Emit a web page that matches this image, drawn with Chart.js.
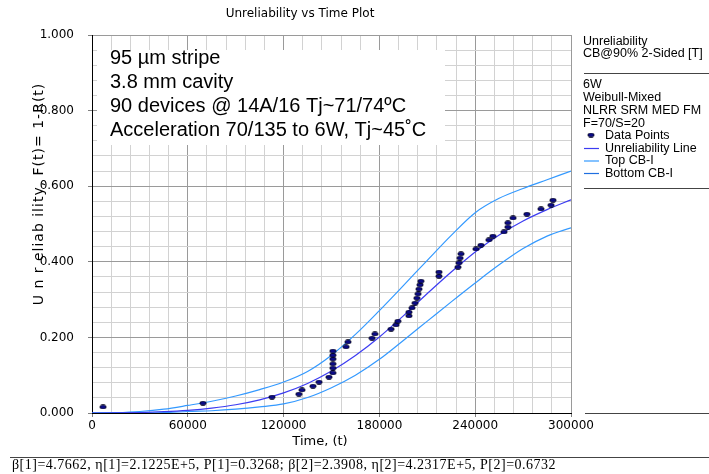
<!DOCTYPE html>
<html>
<head>
<meta charset="utf-8">
<script src="https://cdn.jsdelivr.net/npm/chart.js"></script>
<style>
  html, body { margin: 0; padding: 0; background: #fff; }
  canvas { display: block; }
</style>
</head>
<body>
<canvas id="plot" width="709" height="474"></canvas>
<script>
'use strict';

// DATA

let failTimes = [6900, 69500, 112700, 129600, 131500, 138400, 142200, 148400,
  150900, 150900, 150900, 150900, 150900, 150900, 159100, 160300, 175400, 177200,
  187300, 190400, 191600, 198500, 198500, 200400, 202300, 203500, 204200, 204800,
  205400, 206000, 217300, 217300, 229200, 229800, 230500, 231100, 240500, 243600,
  248600, 251100, 258000, 260500, 260500, 263700, 272400, 281200, 287500, 288700];
let failUnrel = [0.016, 0.026, 0.042, 0.050, 0.061, 0.071, 0.082, 0.095,
  0.106, 0.119, 0.130, 0.143, 0.153, 0.164, 0.175, 0.188, 0.198, 0.209,
  0.222, 0.233, 0.243, 0.257, 0.267, 0.278, 0.291, 0.304, 0.315, 0.328,
  0.339, 0.349, 0.362, 0.373, 0.386, 0.397, 0.410, 0.421, 0.434, 0.444,
  0.458, 0.468, 0.479, 0.492, 0.503, 0.516, 0.526, 0.540, 0.550, 0.563];

let curveTimes = [0, 15000, 30000, 45000, 60000, 75000, 90000, 105000, 120000, 135000,
  150000, 165000, 180000, 195000, 210000, 225000, 240000, 255000, 270000, 285000, 300000];
let unrelLine = [0, 0.0002, 0.0012, 0.0034, 0.0071, 0.013, 0.0218, 0.0348, 0.0532, 0.0782,
  0.111, 0.152, 0.201, 0.257, 0.316, 0.373, 0.426, 0.471, 0.508, 0.538, 0.564];
let topCB = [0, 0.001, 0.004, 0.010, 0.020, 0.031, 0.045, 0.062, 0.082, 0.110,
  0.153, 0.208, 0.271, 0.337, 0.404, 0.470, 0.530, 0.568, 0.594, 0.617, 0.640];
let bottomCB = [0, 0, 0.0003, 0.001, 0.004, 0.006, 0.010, 0.016, 0.024, 0.041,
  0.067, 0.100, 0.142, 0.192, 0.243, 0.294, 0.344, 0.392, 0.435, 0.468, 0.490];

let xTicks = [0, 60000, 120000, 180000, 240000, 300000];
let yTicks = [0, 0.2, 0.4, 0.6, 0.8, 1.0];

let noteLines = ['95 \u00b5m stripe', '3.8 mm cavity',
  '90 devices @ 14A/16 Tj~71/74\u00baC', 'Acceleration 70/135 to 6W, Tj~45\u02daC'];
let legendHead = ['Unreliability', 'CB@90% 2-Sided [T]'];
let legendInfo = ['6W', 'Weibull-Mixed', 'NLRR SRM MED FM', 'F=70/S=20'];
let footer = '\u03b2[1]=4.7662, \u03b7[1]=2.1225E+5, P[1]=0.3268; \u03b2[2]=2.3908, \u03b7[2]=4.2317E+5, P[2]=0.6732';

// COLOURS

let dotFill = '#0b0b8c';
let lineColor = '#3c3cf2';
let cbColor = '#3399ff';
let cbColor2 = '#1f6fe0';

// small ellipse marker for the data points
let dot = document.createElement('canvas');
dot.width = 8;
dot.height = 5;
let dctx = dot.getContext('2d');
dctx.fillStyle = dotFill;
dctx.strokeStyle = '#000';
dctx.lineWidth = 0.7;
dctx.beginPath();
dctx.ellipse(4, 2.5, 3.2, 2, 0, 0, Math.PI * 2);
dctx.fill();
dctx.stroke();

function toXY(xs, ys) {
  return xs.map((x, i) => ({ x: x, y: ys[i] }));
}

function isIn(list, v, tol) {
  return list.some(t => Math.abs(t - v) < tol);
}

// EXTRA DRAWING

let decor = {
  id: 'decor',
  beforeDatasetsDraw(chart) {
    let c = chart.ctx;
    c.save();
    c.fillStyle = '#fff';
    c.fillRect(97, 50, 348, 95);
    c.fillStyle = '#000';
    c.font = '20px "Liberation Sans", Arial, sans-serif';
    c.textBaseline = 'middle';
    noteLines.forEach((t, i) => c.fillText(t, 110, 58 + i * 24.2));
    c.restore();
  },
  afterDraw(chart) {
    let c = chart.ctx;
    c.save();
    c.fillStyle = '#000';
    c.textBaseline = 'middle';

    // title
    c.font = '12px "DejaVu Sans", sans-serif';
    c.textAlign = 'center';
    c.fillText('Unreliability vs Time Plot', 300, 14);

    // x title
    c.font = '13px "DejaVu Sans", sans-serif';
    c.fillText('Time, (t)', 320, 442);

    // y title
    c.save();
    c.translate(39, 194);
    c.rotate(-Math.PI / 2);
    c.font = '14px "DejaVu Sans", sans-serif';
    c.letterSpacing = '1px';
    c.fillText('U n r eliab ility, F(t)= 1-R(t)', 0, 0);
    c.restore();

    // legend
    c.textAlign = 'left';
    c.font = '12.5px "Liberation Sans", Arial, sans-serif';
    c.fillText(legendHead[0], 583, 42);
    c.fillText(legendHead[1], 583, 54);
    legendInfo.forEach((t, i) => c.fillText(t, 583, 85 + i * 12.7));
    let items = ['Data Points', 'Unreliability Line', 'Top CB-I', 'Bottom CB-I'];
    let cols = [null, lineColor, cbColor, cbColor2];
    items.forEach((t, i) => {
      let y = 136 + i * 12.5;
      if (i === 0) {
        c.drawImage(dot, 587, y - 3.5);
      } else {
        c.strokeStyle = cols[i];
        c.lineWidth = 1.2;
        c.beginPath();
        c.moveTo(584, y);
        c.lineTo(599, y);
        c.stroke();
      }
      c.fillText(t, 605, y);
    });

    // separator lines
    c.strokeStyle = '#444';
    c.lineWidth = 1;
    c.beginPath();
    c.moveTo(584, 73.5); c.lineTo(709, 73.5);
    c.moveTo(584, 188.5); c.lineTo(709, 188.5);
    c.moveTo(585, 413.5); c.lineTo(709, 413.5);
    c.moveTo(10, 457.5); c.lineTo(709, 457.5);
    c.stroke();

    // footer
    c.font = '14px "Liberation Serif", "Times New Roman", serif';
    c.letterSpacing = '0.5px';
    c.fillText(footer, 12, 465);
    c.restore();
  }
};

// CHART

let ctx = document.getElementById('plot');

let chartObject = {
  type: 'line',
  data: {
    datasets: [
      {
        label: 'Data Points',
        data: toXY(failTimes, failUnrel),
        showLine: false,
        pointStyle: dot,
        pointRadius: 3,
        order: 0
      },
      {
        label: 'Unreliability Line',
        data: toXY(curveTimes, unrelLine),
        borderColor: lineColor,
        borderWidth: 1.2,
        pointRadius: 0,
        cubicInterpolationMode: 'monotone',
        order: 1
      },
      {
        label: 'Top CB-I',
        data: toXY(curveTimes, topCB),
        borderColor: cbColor,
        borderWidth: 1.2,
        pointRadius: 0,
        cubicInterpolationMode: 'monotone',
        order: 2
      },
      {
        label: 'Bottom CB-I',
        data: toXY(curveTimes, bottomCB),
        borderColor: cbColor,
        borderWidth: 1.2,
        pointRadius: 0,
        cubicInterpolationMode: 'monotone',
        order: 3
      }
    ]
  },
  options: {
    responsive: false,
    animation: false,
    layout: { padding: { top: 35, right: 138, left: 0, bottom: 0 } },
    plugins: {
      legend: { display: false },
      title: { display: false },
      tooltip: { enabled: false }
    },
    scales: {
      x: {
        type: 'linear',
        min: 0,
        max: 300000,
        afterFit(scale) { scale.height = 61; },
        border: { color: '#000', width: 1 },
        grid: {
          color: c => isIn(xTicks, c.tick.value, 1) ? '#9a9a9a' : '#d2d2d2',
          tickColor: c => isIn(xTicks, c.tick.value, 1) ? '#808080' : 'rgba(0,0,0,0)',
          tickLength: 4
        },
        ticks: {
          stepSize: 12000,
          autoSkip: false,
          maxRotation: 0,
          padding: 2,
          color: '#000',
          font: { family: 'DejaVu Sans', size: 12 },
          callback: v => isIn(xTicks, v, 1) ? String(v) : ''
        }
      },
      y: {
        min: 0,
        max: 1,
        afterFit(scale) { scale.width = 92; },
        border: { color: '#000', width: 1 },
        grid: {
          color: c => isIn(yTicks, c.tick.value, 1e-6) ? '#9a9a9a' : '#d2d2d2',
          tickColor: c => isIn(yTicks, c.tick.value, 1e-6) ? '#808080' : 'rgba(0,0,0,0)',
          tickLength: 4
        },
        ticks: {
          stepSize: 0.04,
          autoSkip: false,
          padding: 14,
          color: '#000',
          font: { family: 'DejaVu Sans', size: 12 },
          callback: v => isIn(yTicks, v, 1e-6) ? v.toFixed(3) : ''
        }
      }
    }
  },
  plugins: [decor]
};

const plotChart = new Chart(ctx, chartObject);
</script>
</body>
</html>
